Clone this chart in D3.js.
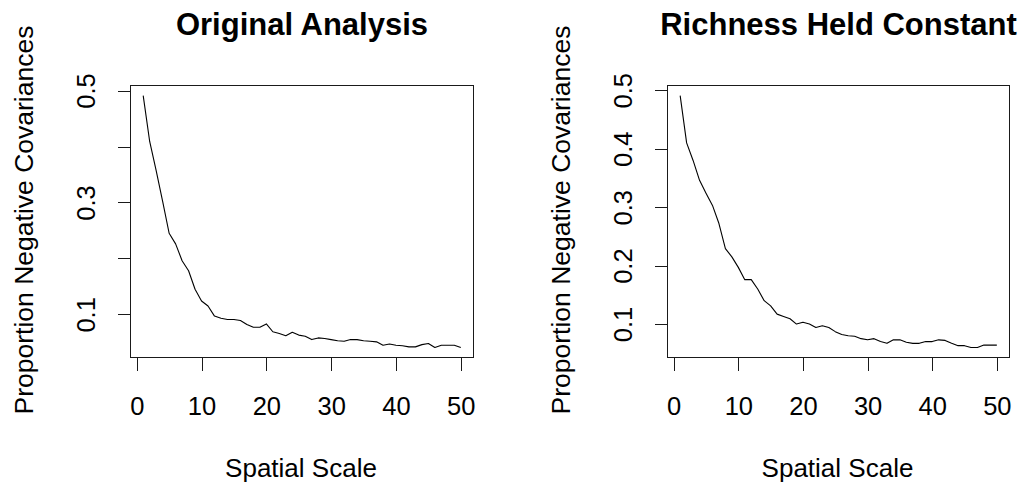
<!DOCTYPE html>
<html>
<head>
<meta charset="utf-8">
<script src="https://cdn.jsdelivr.net/npm/d3@7"></script>
<style>
  html, body { margin: 0; padding: 0; background: #fff; }
  svg text { font-family: "Liberation Sans", Arial, sans-serif; fill: #000; }
</style>
</head>
<body>
<svg id="chart" width="1024" height="486"></svg>
<script>
// Spatial scale (x) shared by both panels
const spatialScale = d3.range(1, 51);

// Proportion of negative covariances, original analysis
const originalValues = [
  0.491, 0.409, 0.357, 0.302, 0.245, 0.226, 0.196, 0.178, 0.145, 0.124,
  0.115, 0.097, 0.093, 0.091, 0.091, 0.089, 0.082, 0.077, 0.077, 0.083,
  0.069, 0.066, 0.062, 0.068, 0.063, 0.061, 0.055, 0.058, 0.057, 0.055,
  0.053, 0.052, 0.055, 0.055, 0.053, 0.052, 0.051, 0.045, 0.047, 0.045,
  0.044, 0.042, 0.042, 0.046, 0.048, 0.041, 0.045, 0.045, 0.045, 0.041
];

// Proportion of negative covariances with richness held constant
const richnessValues = [
  0.491, 0.410, 0.380, 0.346, 0.324, 0.303, 0.272, 0.229, 0.215, 0.197,
  0.176, 0.176, 0.160, 0.140, 0.131, 0.117, 0.113, 0.109, 0.100, 0.103,
  0.100, 0.094, 0.097, 0.094, 0.087, 0.082, 0.080, 0.079, 0.075, 0.073,
  0.075, 0.070, 0.067, 0.073, 0.073, 0.069, 0.067, 0.067, 0.070, 0.070,
  0.073, 0.072, 0.067, 0.063, 0.063, 0.060, 0.060, 0.064, 0.064, 0.064
];

const xTicks = [0, 10, 20, 30, 40, 50];
const yTicks = [0.1, 0.2, 0.3, 0.4, 0.5];
const originalYLabels = [0.1, 0.3, 0.5];
const richnessYLabels = [0.1, 0.2, 0.3, 0.4, 0.5];

const panelTitles = ["Original Analysis", "Richness Held Constant"];
const xTitle = "Spatial Scale";
const yTitle = "Proportion Negative Covariances";

const svg = d3.select("#chart");

// extend a data range by 4% on each side
function padded(ext) {
  const r = ext[1] - ext[0];
  return [ext[0] - 0.04 * r, ext[1] + 0.04 * r];
}

const panels = [
  { title: panelTitles[0], values: originalValues, labels: originalYLabels,
    left: 130.5, right: 473.5, top: 85.5, bottom: 357.5 },
  { title: panelTitles[1], values: richnessValues, labels: richnessYLabels,
    left: 667.5, right: 1009.5, top: 85.5, bottom: 357.5 }
];

panels.forEach(p => {
  const x = d3.scaleLinear().domain(padded(d3.extent(spatialScale))).range([p.left, p.right]);
  const y = d3.scaleLinear().domain(padded(d3.extent(p.values))).range([p.bottom, p.top]);
  const g = svg.append("g");
  const tickLen = 13;

  // plot box
  g.append("rect")
    .attr("x", p.left).attr("y", p.top)
    .attr("width", p.right - p.left).attr("height", p.bottom - p.top)
    .attr("fill", "none").attr("stroke", "#1a1a1a").attr("stroke-width", 1);

  // x axis
  const xa = g.append("g")
    .attr("transform", `translate(0,${p.bottom})`)
    .call(d3.axisBottom(x).tickValues(xTicks).tickSize(tickLen).tickPadding(0).tickFormat(d3.format("d")));
  xa.select(".domain").remove();
  xa.selectAll("line").attr("stroke", "#1a1a1a").attr("shape-rendering", "crispEdges");
  xa.selectAll("text")
    .attr("y", 57).attr("dy", 0)
    .attr("font-size", "25.5px").attr("fill", "#000")
    .attr("font-family", "'Liberation Sans', Arial, sans-serif");

  // y axis, labels rotated as in base graphics
  const ya = g.append("g")
    .attr("transform", `translate(${p.left},0)`)
    .call(d3.axisLeft(y).tickValues(yTicks).tickSize(tickLen)
      .tickFormat(d => p.labels.includes(d) ? d3.format(".1f")(d) : ""));
  ya.select(".domain").remove();
  ya.selectAll("line").attr("stroke", "#1a1a1a").attr("shape-rendering", "crispEdges");
  ya.selectAll("text")
    .attr("transform", "rotate(-90)")
    .attr("x", 0).attr("y", -36).attr("dy", 0)
    .attr("text-anchor", "middle")
    .attr("font-size", "25.5px").attr("fill", "#000")
    .attr("font-family", "'Liberation Sans', Arial, sans-serif");

  // the series line
  const line = d3.line().x((d, i) => x(spatialScale[i])).y(d => y(d));
  g.append("path")
    .datum(p.values)
    .attr("d", line)
    .attr("fill", "none")
    .attr("stroke", "#000")
    .attr("stroke-width", 1.1)
    .attr("stroke-linejoin", "round");

  const cx = (p.left + p.right) / 2;
  const cy = (p.top + p.bottom) / 2;

  // panel title
  g.append("text")
    .attr("x", cx).attr("y", 34.5)
    .attr("text-anchor", "middle")
    .attr("font-size", "31px").attr("font-weight", "bold")
    .text(p.title);

  // axis titles
  g.append("text")
    .attr("x", cx - 1).attr("y", 477)
    .attr("text-anchor", "middle")
    .attr("font-size", "26px")
    .text(xTitle);

  g.append("text")
    .attr("transform", `translate(${p.left - 98},${cy - 1.5}) rotate(-90)`)
    .attr("text-anchor", "middle")
    .attr("font-size", "26.5px")
    .text(yTitle);
});
</script>
</body>
</html>
